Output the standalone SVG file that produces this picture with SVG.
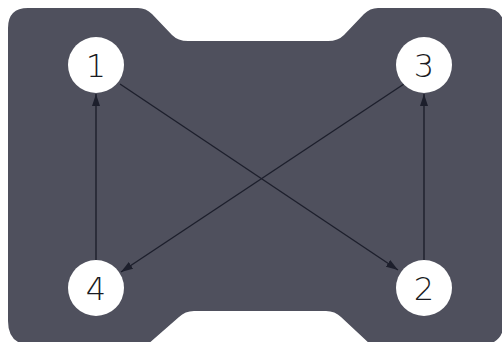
<svg xmlns="http://www.w3.org/2000/svg" width="502" height="342" viewBox="0 0 502 342">
<style>
.node circle{fill:#ffffff}
.node text{font-family:"DejaVu Sans","Liberation Sans",sans-serif;font-size:32px;font-weight:200;fill:#1a1b22;text-anchor:middle;dominant-baseline:central}
.conn line{stroke:#1d1f2c;stroke-width:1.4}
</style>
<defs>
<marker id="ah" viewBox="0 0 12 8" refX="12" refY="4" markerWidth="12" markerHeight="8" markerUnits="userSpaceOnUse" orient="auto">
<path d="M0,0 L12,4 L0,8 Z" fill="#1d1f2c"/>
</marker>
</defs>
<rect width="502" height="342" fill="#ffffff"/>
<path id="board" fill="#4f505d" d="M28,8 H138 Q146,8 152,14 L172,35 Q178,41 188,41 H328 Q338,41 344,35 L364,14 Q370,8 378,8 H484 Q504,8 504,28 V321 Q504,345 480,345 H371 L341,317 Q335,311 326,311 H194 Q185,311 179,317 L147,345 H32 Q8,345 8,321 V28 Q8,8 28,8 Z"/>
<g class="conn">
<line x1="120" y1="84" x2="398" y2="270" marker-end="url(#ah)"/>
<line x1="404" y1="84" x2="121" y2="272" marker-end="url(#ah)"/>
<line x1="96" y1="260" x2="96" y2="94" marker-end="url(#ah)"/>
<line x1="424" y1="260" x2="424" y2="94" marker-end="url(#ah)"/>
</g>
<g id="n1" class="node"><circle cx="96" cy="65" r="28"/><text x="96" y="66">1</text></g>
<g id="n3" class="node"><circle cx="424" cy="65" r="28"/><text x="424" y="66">3</text></g>
<g id="n4" class="node"><circle cx="96" cy="288" r="28"/><text x="96" y="289">4</text></g>
<g id="n2" class="node"><circle cx="424" cy="288" r="28"/><text x="424" y="289">2</text></g>
</svg>
